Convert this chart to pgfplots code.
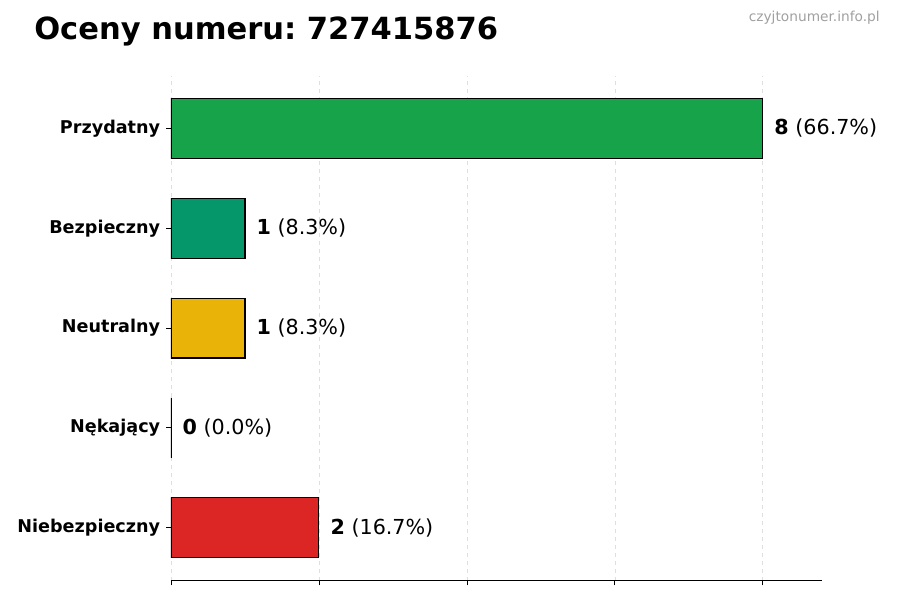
\documentclass[border=0pt]{standalone}
\usepackage{pgfplots}
\pgfplotsset{compat=1.18}
\usepackage{fontspec}
\setmainfont{DejaVu Sans}
\frenchspacing
\definecolor{cgreen}{HTML}{16A34A}
\definecolor{cteal}{HTML}{059669}
\definecolor{cyellow}{HTML}{EAB308}
\definecolor{cred}{HTML}{DC2626}
\definecolor{wm}{HTML}{A0A0A0}
\begin{document}
\begin{tikzpicture}[x=0.75pt,y=0.75pt]
\useasboundingbox (0,0) rectangle (900,600);
\node[anchor=base west,font=\fontsize{22.9}{26}\selectfont\bfseries,inner sep=0pt] at (34,560) {Oceny numeru: 727415876};
\node[anchor=base east,font=\fontsize{10.3}{12}\selectfont,text=wm,inner sep=0pt] at (880,578) {czyjtonumer.info.pl};
\begin{axis}[
  at={(128.25pt,14.6pt)}, anchor=south west,
  scale only axis, width=651*0.75pt, height=505*0.75pt,
  xmin=0, xmax=8.8, ymin=-0.53, ymax=4.53,
  xbar, bar width=0.6, bar shift=0pt,
  axis x line*=bottom, axis y line*=left,
  y axis line style={draw=none},
  x axis line style={black, line width=0.8pt},
  xtick={0,2,4,6,8}, xticklabels={},
  ytick={0,1,2,3,4},
  yticklabels={Niebezpieczny,Nękający,Neutralny,Bezpieczny,Przydatny},
  yticklabel style={font=\fontsize{13.2}{15}\selectfont\bfseries, xshift=-1pt},
  tick align=outside, major tick length=3.6pt,
  tick style={black, line width=0.6pt},
  xmajorgrids, grid style={dashed, gray!25, line width=0.5pt},
  nodes near coords,
  point meta=explicit symbolic,
  every node near coord/.append style={anchor=west, xshift=5pt, font=\fontsize{15.5}{18}\selectfont, text=black},
]
\addplot[fill=cred, draw=black, line width=0.8pt] coordinates {(2,0) [\textbf{2} (16.7\%)]};
\addplot[fill=black, draw=black, line width=0.8pt] coordinates {(0,1) [\textbf{0} (0.0\%)]};
\addplot[fill=cyellow, draw=black, line width=0.8pt] coordinates {(1,2) [\textbf{1} (8.3\%)]};
\addplot[fill=cteal, draw=black, line width=0.8pt] coordinates {(1,3) [\textbf{1} (8.3\%)]};
\addplot[fill=cgreen, draw=black, line width=0.8pt] coordinates {(8,4) [\textbf{8} (66.7\%)]};
\end{axis}
\end{tikzpicture}
\end{document}
